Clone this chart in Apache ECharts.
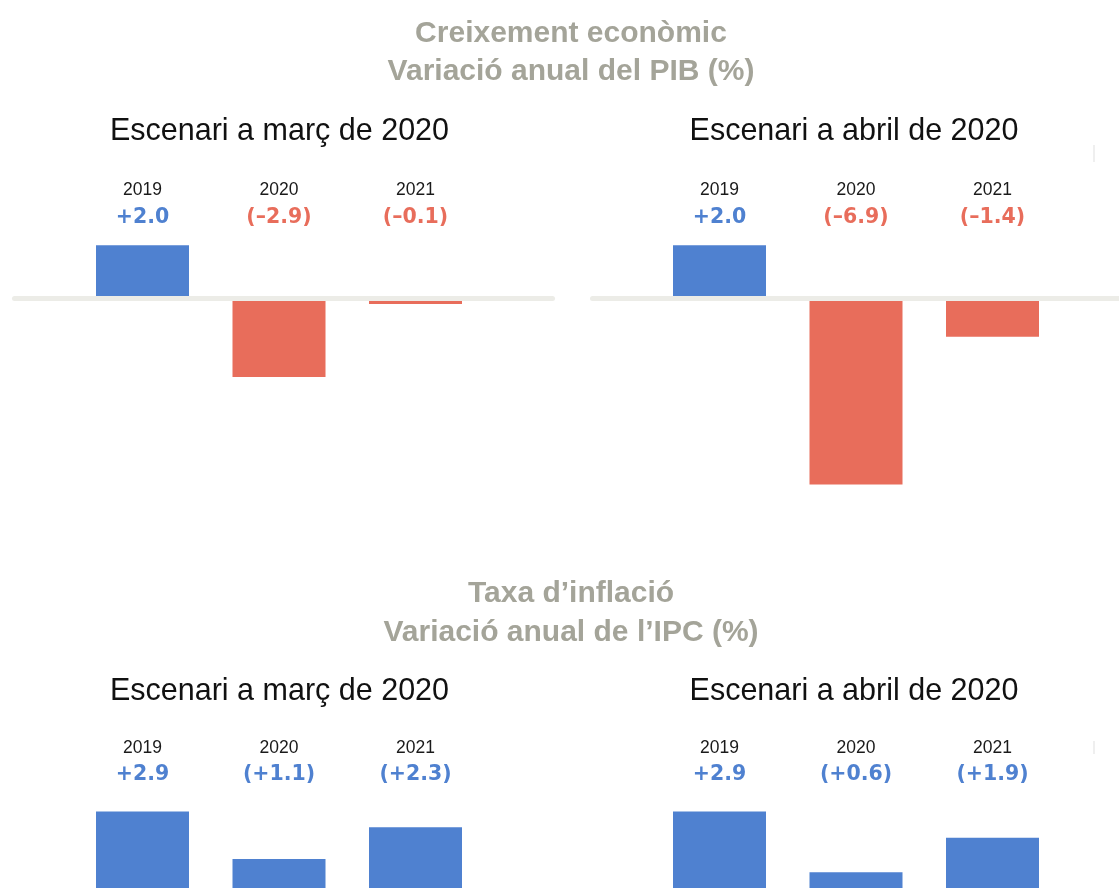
<!DOCTYPE html>
<html>
<head>
<meta charset="utf-8">
<script src="https://cdn.jsdelivr.net/npm/echarts@6/dist/echarts.min.js"></script>
<style>
html,body{margin:0;padding:0;background:#fff;}
#chart{width:1119px;height:888px;}
</style>
</head>
<body>
<div id="chart"></div>
<script>
// ---- data ----
const years = ['2019', '2020', '2021'];
const gdpMarch = [2.0, -2.9, -0.1];
const gdpApril = [2.0, -6.9, -1.4];
const cpiMarch = [2.9, 1.1, 2.3];
const cpiApril = [2.9, 0.6, 1.9];
const sectionTitles = ['Creixement econòmic\nVariació anual del PIB (%)', 'Taxa d\u2019inflació\nVariació anual de l\u2019IPC (%)'];
const panelTitles = ['Escenari a març de 2020', 'Escenari a abril de 2020'];

// ---- styles ----
const BLUE = '#4f81d0';
const RED = '#e86d5b';
const GRAY = '#a4a499';
const BAND = '#ecece7';

function fmt(v, i) {
  let s = (v >= 0 ? '+' : '\u2013') + Math.abs(v).toFixed(1);
  if (i > 0) s = '(' + s + ')';
  return s;
}

const panels = [
  {data: gdpMarch, left: 74.25, top: 231.75, height: 269, min: -7.5, max: 2.5, margin: 1, minH: 5},
  {data: gdpApril, left: 651.25, top: 231.75, height: 269, min: -7.5, max: 2.5, margin: 1, minH: 5},
  {data: cpiMarch, left: 74.25, top: 795.55, height: 93.45, min: 0, max: 3.5, margin: 7, minH: 0},
  {data: cpiApril, left: 651.25, top: 795.55, height: 93.45, min: 0, max: 3.5, margin: 7, minH: 0}
];

const grid = [], xAxis = [], yAxis = [], series = [];
panels.forEach((p, k) => {
  grid.push({left: p.left, top: p.top, width: 409.5, height: p.height, containLabel: false});
  // bottom category axis (hidden)
  xAxis.push({type: 'category', gridIndex: k, data: years, position: 'bottom',
    axisLine: {show: false}, axisTick: {show: false}, axisLabel: {show: false}, splitLine: {show: false}});
  // top category axis with year + value labels
  xAxis.push({type: 'category', gridIndex: k, data: years, position: 'top',
    axisLine: {show: false}, axisTick: {show: false}, splitLine: {show: false},
    axisLabel: {
      show: true, margin: p.margin, interval: 0,
      formatter: (val, i) => '{y|' + val + '}\n{' + (p.data[i] >= 0 ? 'pos' : 'neg') + '|' + fmt(p.data[i], i) + '}',
      rich: {
        y: {fontFamily: 'Liberation Sans', fontSize: 17.5, color: '#1a1a1a', lineHeight: 27, align: 'center'},
        pos: {fontFamily: 'DejaVu Sans', fontWeight: 'bold', fontSize: 20.5, color: BLUE, lineHeight: 27, align: 'center'},
        neg: {fontFamily: 'DejaVu Sans', fontWeight: 'bold', fontSize: 20.5, color: RED, lineHeight: 27, align: 'center'}
      }
    }});
  yAxis.push({type: 'value', gridIndex: k, min: p.min, max: p.max, show: false, splitLine: {show: false}});
  series.push({
    type: 'bar', xAxisIndex: 2 * k, yAxisIndex: k, data: p.data, barWidth: 93,
    barMinHeight: p.minH,
    itemStyle: {color: (prm) => prm.value >= 0 ? BLUE : RED},
    label: {show: false}, silent: true
  });
});

// helper grids for the grey zero bands of the GDP panels
const bands = [{left: 14.5, width: 538}, {left: 592.5, width: 530}];
bands.forEach((b) => {
  const gi = grid.length;
  grid.push({left: b.left, width: b.width, top: 288.5, height: 10});
  xAxis.push({type: 'value', gridIndex: gi, min: 0, max: 1, z: 5,
    axisLine: {show: true, lineStyle: {color: BAND, width: 5}},
    axisTick: {show: false}, axisLabel: {show: false}, splitLine: {show: false}});
  yAxis.push({type: 'value', gridIndex: gi, min: 0, max: 1, show: false, splitLine: {show: false}});
});

const sectionStyle = (lh) => ({fontFamily: 'Liberation Sans', fontWeight: 'bold', fontSize: 30, color: GRAY, lineHeight: lh});
const panelStyle = {fontFamily: 'Liberation Sans', fontWeight: 'normal', fontSize: 30.5, color: '#111', lineHeight: 36};

const title = [
  {text: sectionTitles[0], left: 566, top: 10, textAlign: 'center', textStyle: sectionStyle(38)},
  {text: sectionTitles[1], left: 566, top: 569, textAlign: 'center', textStyle: sectionStyle(39)},
  {text: panelTitles[0], left: 274.5, top: 109, textAlign: 'center', textStyle: panelStyle},
  {text: panelTitles[1], left: 849, top: 109, textAlign: 'center', textStyle: panelStyle},
  {text: panelTitles[0], left: 274.5, top: 669, textAlign: 'center', textStyle: panelStyle},
  {text: panelTitles[1], left: 849, top: 669, textAlign: 'center', textStyle: panelStyle}
];

const chart = echarts.init(document.getElementById('chart'), null, {renderer: 'canvas'});
chart.setOption({
  backgroundColor: '#ffffff',
  animation: false,
  title: title,
  grid: grid,
  xAxis: xAxis,
  yAxis: yAxis,
  series: series,
  graphic: [
    {type: 'rect', shape: {x: 1093, y: 145, width: 2, height: 17}, style: {fill: '#efefef'}, silent: true},
    {type: 'rect', shape: {x: 1093, y: 741, width: 2, height: 13}, style: {fill: '#efefef'}, silent: true}
  ]
});
</script>
</body>
</html>
